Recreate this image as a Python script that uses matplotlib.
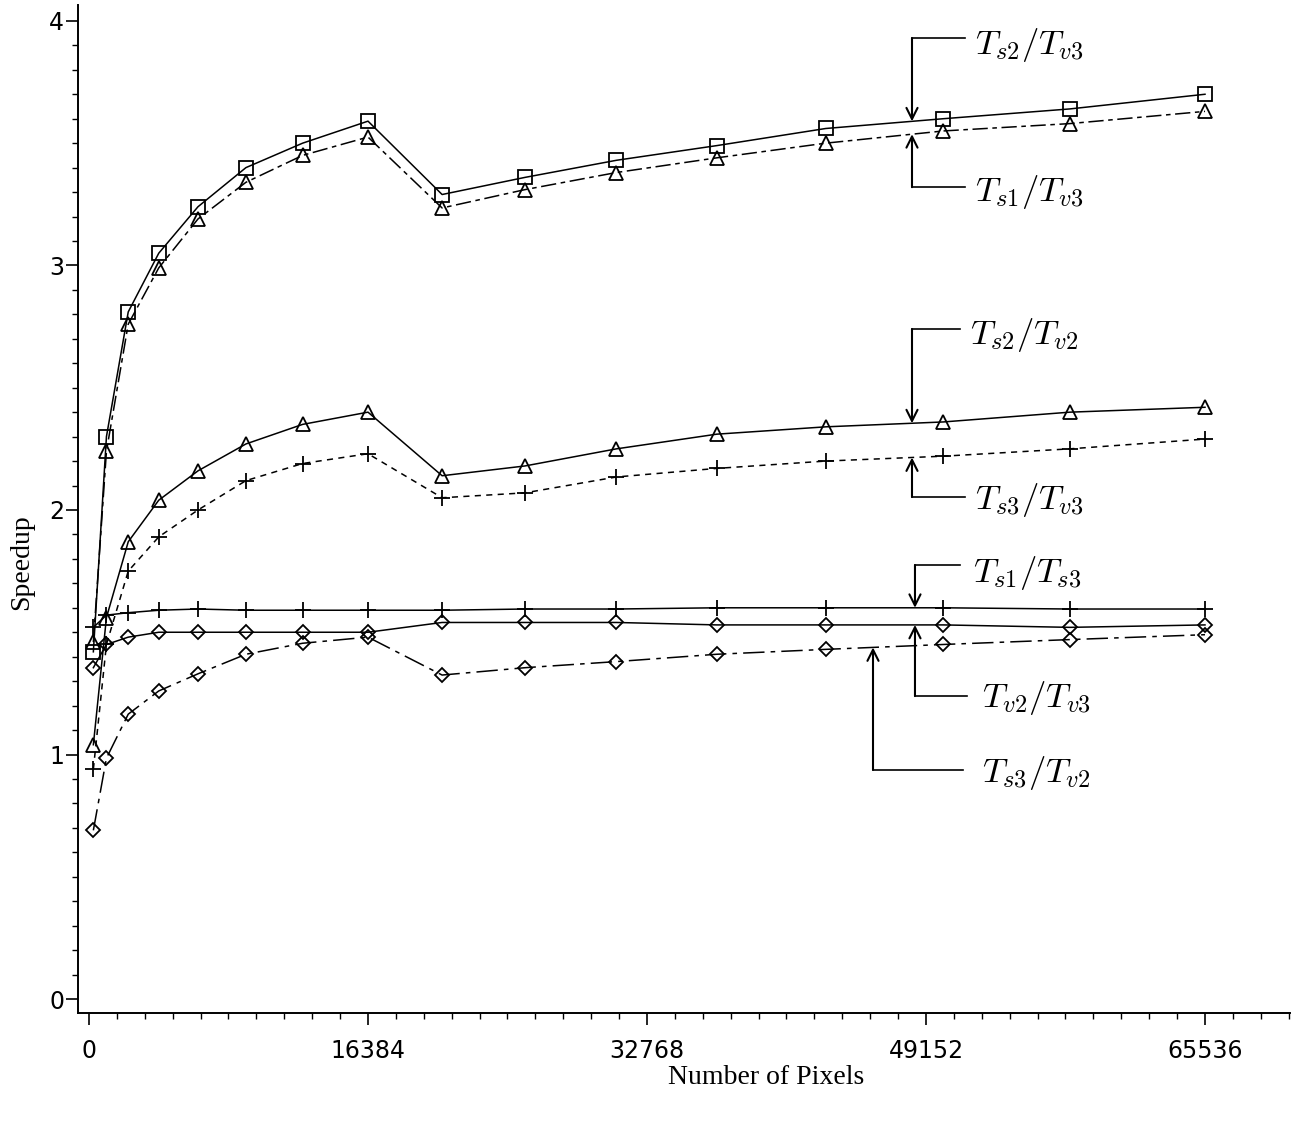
import numpy as np
import matplotlib.pyplot as plt
from matplotlib.ticker import MultipleLocator

# image sizes (16x16 ... 256x256)
pixels = [256, 1024, 2304, 4096, 6400, 9216, 12544, 16384,
          20736, 25600, 30976, 36864, 43264, 50176, 57600, 65536]

# speedup ratios
ts2_tv3 = [1.42, 2.30, 2.81, 3.05, 3.24, 3.40, 3.50, 3.59,
           3.29, 3.36, 3.43, 3.49, 3.56, 3.60, 3.64, 3.70]
ts1_tv3 = [1.46, 2.24, 2.76, 2.99, 3.19, 3.34, 3.45, 3.525,
           3.235, 3.31, 3.38, 3.44, 3.50, 3.55, 3.58, 3.63]
ts2_tv2 = [1.04, 1.56, 1.87, 2.04, 2.16, 2.27, 2.35, 2.40,
           2.14, 2.18, 2.25, 2.31, 2.34, 2.36, 2.40, 2.42]
ts3_tv3 = [0.94, 1.45, 1.75, 1.89, 2.00, 2.12, 2.19, 2.23,
           2.05, 2.07, 2.135, 2.17, 2.20, 2.22, 2.25, 2.29]
ts1_ts3 = [1.52, 1.57, 1.58, 1.59, 1.595, 1.59, 1.59, 1.59,
           1.59, 1.595, 1.595, 1.60, 1.60, 1.60, 1.595, 1.595]
tv2_tv3 = [1.355, 1.45, 1.48, 1.50, 1.50, 1.50, 1.50, 1.50,
           1.54, 1.54, 1.54, 1.53, 1.53, 1.53, 1.52, 1.53]
ts3_tv2 = [0.69, 0.985, 1.165, 1.26, 1.33, 1.41, 1.455, 1.48,
           1.325, 1.355, 1.38, 1.41, 1.43, 1.45, 1.47, 1.49]

plt.rcParams['mathtext.fontset'] = 'cm'

fig = plt.figure(figsize=(13.08, 11.25), dpi=100)
ax = fig.add_axes([78/1308, 1-1013/1125, (1290-78)/1308, (1013-5)/1125])

lw = 1.1
mk = dict(markerfacecolor='none', markeredgecolor='k', markeredgewidth=1.3)
ax.plot(pixels, ts2_tv3, color='k', lw=lw, marker='s', markersize=10, **mk)
ax.plot(pixels, ts1_tv3, color='k', lw=lw, ls=(0, (10, 3, 3, 3)), marker='^', markersize=10, **mk)
ax.plot(pixels, ts2_tv2, color='k', lw=lw, marker='^', markersize=10, **mk)
ax.plot(pixels, ts3_tv3, color='k', lw=lw, ls=(0, (4, 3.5)), marker='+', markersize=12, **mk)
ax.plot(pixels, ts1_ts3, color='k', lw=lw, marker='+', markersize=12, **mk)
ax.plot(pixels, tv2_tv3, color='k', lw=lw, marker='D', markersize=7, **mk)
ax.plot(pixels, ts3_tv2, color='k', lw=lw, ls=(0, (14, 4, 3, 4)), marker='D', markersize=7, **mk)

ax.set_xlim(-646, 70528)
ax.set_ylim(-0.057, 4.065)
ax.spines['top'].set_visible(False)
ax.spines['right'].set_visible(False)
ax.spines['left'].set_linewidth(1.4)
ax.spines['bottom'].set_linewidth(1.4)

ax.xaxis.set_major_locator(MultipleLocator(16384))
ax.xaxis.set_minor_locator(MultipleLocator(1638.4))
ax.yaxis.set_major_locator(MultipleLocator(1))
ax.yaxis.set_minor_locator(MultipleLocator(0.1))
ax.tick_params(which='major', direction='out', length=8.5, width=1.2, labelsize=17)
ax.tick_params(which='minor', direction='out', length=4, width=1.0)
ax.tick_params(axis='x', which='major', pad=10)
ax.tick_params(axis='y', which='major', pad=1.5)

fig.text(766/1308, 1-1077/1125, 'Number of Pixels', family='Liberation Serif',
         fontsize=20, ha='center', va='center')
fig.text(22/1308, 0.5, 'Speedup', family='Liberation Serif', fontsize=20,
         rotation=90, ha='center', va='center')

# callout labels: stem x, elbow y, elbow end x, text x, text y
def callout(series, label, xs, yc, xe, xt, yt):
    tip = np.interp(xs, pixels, series)
    ax.plot([xs, xe], [yc, yc], color='k', lw=1.2)
    ax.annotate('', xy=(xs, tip), xytext=(xs, yc),
                arrowprops=dict(arrowstyle='->,head_length=0.8,head_width=0.4',
                                lw=1.5, color='k', shrinkA=0, shrinkB=0))
    ax.text(xt, yt, label, fontsize=25, ha='left', va='center')

callout(ts2_tv3, r'$T_{s2}/T_{v3}$', 48330, 3.93, 51440, 52030, 3.90)
callout(ts1_tv3, r'$T_{s1}/T_{v3}$', 48330, 3.32, 51440, 52030, 3.30)
callout(ts2_tv2, r'$T_{s2}/T_{v2}$', 48330, 2.74, 51150, 51730, 2.716)
callout(ts3_tv3, r'$T_{s3}/T_{v3}$', 48330, 2.053, 51440, 52030, 2.04)
callout(ts1_ts3, r'$T_{s1}/T_{s3}$', 48505, 1.775, 51150, 51910, 1.742)
callout(tv2_tv3, r'$T_{v2}/T_{v3}$', 48505, 1.239, 51560, 52440, 1.231)
callout(ts3_tv2, r'$T_{s3}/T_{v2}$', 46040, 0.937, 51320, 52440, 0.924)

fig.savefig('out.png', dpi=100)
